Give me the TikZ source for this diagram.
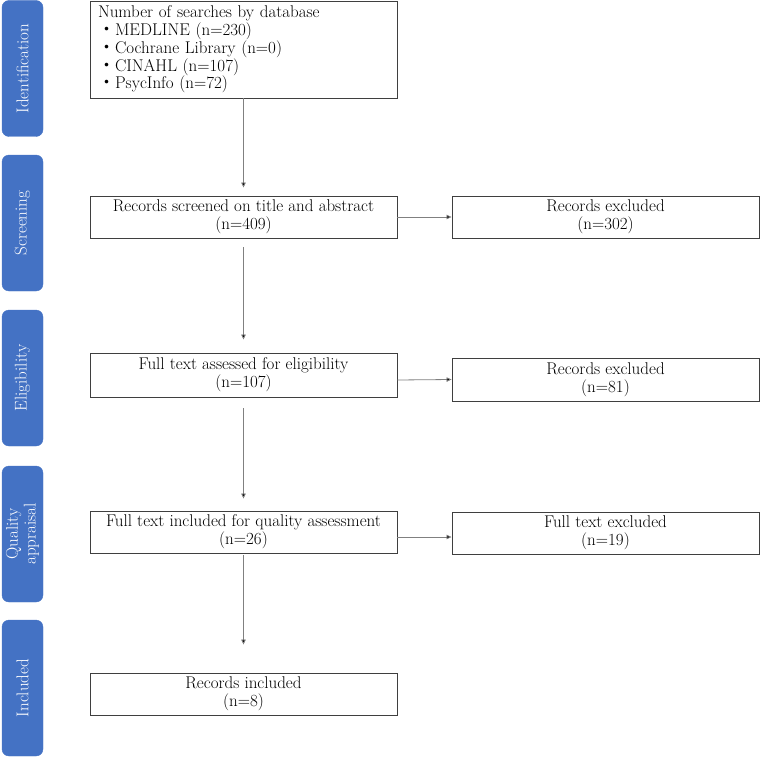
\documentclass[tikz,border=0pt]{standalone}
\usepackage{fontspec}
\newfontfamily\cjk{Noto Sans CJK JP}
\usetikzlibrary{arrows.meta}

\definecolor{phaseblue}{HTML}{4472C4}
\definecolor{linegray}{HTML}{808080}
\definecolor{boxgray}{HTML}{3F3F3F}
\newcommand{\flowsize}{\fontsize{17}{17.8}\selectfont}
\newcommand{\itm}{{\cjk ・}}

\tikzset{
  box/.style={draw=boxgray, line width=0.9pt, minimum width=307pt, minimum height=42pt,
    align=center, inner sep=0pt, font=\flowsize},
  phase/.style={fill=phaseblue, draw=phaseblue, rounded corners=7pt, rotate=90,
    minimum width=136pt, minimum height=41pt, align=center, inner sep=0pt,
    text=white, font=\flowsize},
  arr/.style={draw=linegray, line width=0.8pt, -{Triangle[length=5pt,width=4.5pt,fill=black]}}
}

\begin{document}
\begin{tikzpicture}[x=1pt,y=-1pt]
  \useasboundingbox (0,0) rectangle (760,757);

  % phases
  \node[phase] (pid) at (22.5,68.5) {Identification};
  \node[phase] (psc) at (22.5,223) {Screening};
  \node[phase] (pel) at (22.5,378) {Eligibility};
  \node[phase] (pqa) at (22.5,534) {Quality\\appraisal};
  \node[phase] (pin) at (22.5,688) {Included};

  % flow boxes
  \node[box, text width=291pt, inner xsep=8pt, minimum height=97pt, align=left] (search) at (243.5,49.5)
    {Number of searches by database\\
     \itm MEDLINE (n=230)\\
     \itm Cochrane Library (n=0)\\
     \itm CINAHL (n=107)\\
     \itm PsycInfo (n=72)};
  \node[box] (screen) at (243.5,217) {Records screened on title and abstract\\(n=409)};
  \node[box] (excl1) at (605.5,217) {Records excluded\\(n=302)};
  \node[box, minimum height=44pt] (elig) at (243.5,375) {Full text assessed for eligibility\\(n=107)};
  \node[box, minimum height=43pt] (excl2) at (605.5,379.5) {Records excluded\\(n=81)};
  \node[box] (quality) at (243.5,532) {Full text included for quality assessment\\(n=26)};
  \node[box] (excl3) at (605.5,533) {Full text excluded\\(n=19)};
  \node[box] (incl) at (243.5,694) {Records included\\(n=8)};

  % connectors
  \draw[arr] (search.south) -- ([yshift=8pt]screen.north);
  \draw[arr] ([yshift=-9pt]screen.south) -- ([yshift=13pt]elig.north);
  \draw[arr] ([yshift=-11pt]elig.south) -- ([yshift=12pt]quality.north);
  \draw[arr] ([yshift=-2pt]quality.south) -- ([yshift=28pt]incl.north);
  \draw[arr] (screen.east) -- (excl1.west);
  \draw[arr] ([yshift=-5pt]elig.east) -- (excl2.west);
  \draw[arr] ([yshift=-5pt]quality.east) -- ([yshift=-5pt]quality.east -| excl3.west);
\end{tikzpicture}
\end{document}
